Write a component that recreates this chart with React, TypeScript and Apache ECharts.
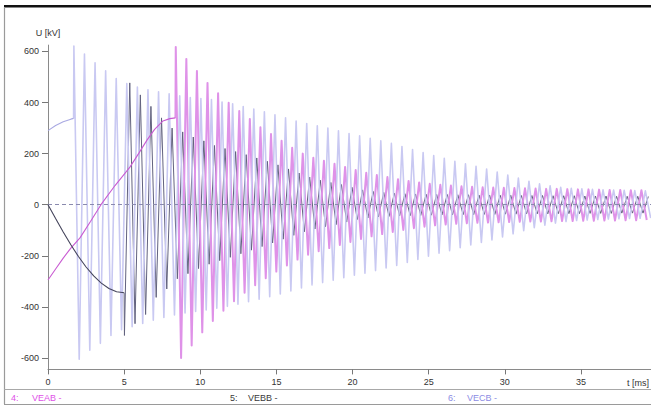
import React, { useEffect, useRef } from "react";
import * as echarts from "echarts";

// ---------- data ----------
const xTicks = [0, 5, 10, 15, 20, 25, 30, 35];
const yTicks = [-600, -400, -200, 0, 200, 400, 600];
const xMax = 39.6;
const yMin = -645;
const yMax = 625;

// oscillation spacing (ms between two successive tops)
const period = 0.695;

// 4: VEAB (magenta)
const veabPreT = [0, 0.5, 1, 1.5, 2.1, 2.8, 3.48, 4.4, 5.38, 6.0, 6.5, 7.0, 7.55, 8.0, 8.37];
const veabPreV = [-295, -252, -209, -170, -130, -65, 0, 75, 147, 205, 253, 295, 328, 337, 340];
const veabTopStart = 8.39;
const veabTops = [618, 571, 524, 477, 436, 399, 367, 336, 303, 277,
  250, 223, 200, 184, 172, 160, 148, 136, 125, 116,
  108, 100, 93, 87, 82, 78, 75, 72, 70, 68,
  67, 66, 65, 64, 63, 62, 62, 61, 60, 60,
  59, 58, 58, 57, 57];
const veabBottomStart = 8.74;
const veabBottoms = [-600, -551, -500, -455, -415, -378, -345, -315, -288, -262,
  -238, -215, -196, -182, -170, -158, -146, -134, -124, -115,
  -107, -99, -92, -86, -81, -78, -75, -73, -71, -70,
  -69, -68, -67, -66, -66, -65, -64, -64, -63, -63,
  -62, -62, -61, -61, -60];

// 5: VEBB (dark)
const vebbPreT = [0, 0.5, 1, 1.5, 2, 2.5, 3, 3.5, 4, 4.5, 5];
const vebbPreV = [0, -54, -107, -157, -203, -244, -279, -307, -328, -341, -345];
const vebbTopStart = 5.37;
const vebbTops = [477, 430, 385, 340, 300, 285, 265, 250, 232, 220,
  208, 196, 183, 170, 156, 140, 124, 108, 96, 87,
  79, 68, 58, 52, 48, 45, 43, 42, 41, 40,
  40, 39, 39, 38, 38, 37, 37, 36, 36, 36,
  35, 35, 35, 34, 34, 34, 33, 33, 33, 32];
const vebbBottomStart = 5.02;
const vebbBottoms = [-512, -466, -430, -363, -330, -290, -270, -250, -233, -219,
  -206, -192, -178, -164, -150, -135, -120, -106, -95, -86,
  -78, -68, -58, -52, -48, -46, -44, -43, -42, -41,
  -40, -40, -39, -39, -38, -38, -37, -37, -36, -36,
  -36, -35, -35, -35, -34, -34, -34, -33, -33, -33];

// 6: VECB (light violet)
const vecbPreT = [0, 0.5, 1, 1.5, 1.68];
const vecbPreV = [290, 310, 325, 335, 338];
const vecbTopStart = 1.7;
const vecbTops = [621, 590, 556, 524, 494, 474, 461, 450, 442, 434,
  426, 420, 416, 412, 402, 395, 384, 375, 364, 352,
  340, 328, 318, 309, 300, 289, 279, 270, 260, 250,
  240, 228, 216, 204, 192, 182, 170, 160, 150, 140,
  128, 116, 104, 92, 82, 74, 68, 64, 62, 60,
  58, 57, 56, 55, 54];
const vecbBottomStart = 2.05;
const vecbBottoms = [-605, -570, -543, -512, -490, -478, -465, -452, -442, -432,
  -424, -418, -412, -405, -398, -390, -380, -370, -360, -350,
  -338, -326, -314, -305, -296, -286, -276, -268, -258, -248,
  -238, -226, -214, -202, -190, -180, -168, -158, -148, -138,
  -126, -114, -102, -90, -80, -72, -66, -62, -60, -58,
  -56, -55, -54, -53, -52];

const seriesNames = ["VEAB", "VEBB", "VECB"];
const curveColors = ["#c95bd2", "#45455c", "#a9a9e2"];
const oscColors = ["#df92e8", "#62627e", "#c9c9f2"];
const oscWidths = [2, 1, 1.6];
const oscZ = [3, 2, 4];
const legendColors = ["#e050e8", "#3a3a3a", "#8c8ce4"];

function buildPre(preT: number[], preV: number[]): number[][] {
  return preT.map((t, i) => [t, preV[i]]);
}

function buildOsc(
  preT: number[], preV: number[],
  topStart: number, tops: number[],
  botStart: number, bots: number[]
): number[][] {
  const osc: number[][] = [];
  tops.forEach((v, k) => osc.push([topStart + k * period, v]));
  bots.forEach((v, k) => osc.push([botStart + k * period, v]));
  osc.sort((a, b) => a[0] - b[0]);
  const last = preT.length - 1;
  return [[preT[last], preV[last]]].concat(osc.filter((p) => p[0] <= xMax));
}

const FONT = "Liberation Sans, Arial, sans-serif";

export default function App() {
  const ref = useRef<HTMLDivElement>(null);
  useEffect(() => {
    if (!ref.current) return;
    const chart = echarts.init(ref.current, undefined, { renderer: "svg" });
    const pre = [
      buildPre(veabPreT, veabPreV),
      buildPre(vebbPreT, vebbPreV),
      buildPre(vecbPreT, vecbPreV),
    ];
    const osc = [
      buildOsc(veabPreT, veabPreV, veabTopStart, veabTops, veabBottomStart, veabBottoms),
      buildOsc(vebbPreT, vebbPreV, vebbTopStart, vebbTops, vebbBottomStart, vebbBottoms),
      buildOsc(vecbPreT, vecbPreV, vecbTopStart, vecbTops, vecbBottomStart, vecbBottoms),
    ];
    const legendX = [[11, 32], [230, 248], [448, 467]];
    const graphics: any[] = [
      { type: "rect", shape: { x: 4, y: 5, width: 647, height: 2.5 }, style: { fill: "#111" }, silent: true },
      { type: "line", shape: { x1: 4.5, y1: 7, x2: 4.5, y2: 404 }, style: { stroke: "#9a9a9a", lineWidth: 1.2 }, silent: true },
      { type: "line", shape: { x1: 4, y1: 389.5, x2: 651, y2: 389.5 }, style: { stroke: "#a8a8a8", lineWidth: 1 }, silent: true },
      { type: "line", shape: { x1: 4, y1: 404.5, x2: 651, y2: 404.5 }, style: { stroke: "#9a9a9a", lineWidth: 1 }, silent: true },
      {
        type: "text", x: 627, y: 383,
        style: { text: "t [ms]", fill: "#333", font: `9px ${FONT}`, verticalAlign: "middle" },
        silent: true,
      },
    ];
    seriesNames.forEach((n, i) => {
      graphics.push({
        type: "text", x: legendX[i][0], y: 397.5,
        style: { text: `${4 + i}:`, fill: legendColors[i], font: `9px ${FONT}`, verticalAlign: "middle" },
        silent: true,
      });
      graphics.push({
        type: "text", x: legendX[i][1], y: 397.5,
        style: { text: `${n} -`, fill: legendColors[i], font: `9px ${FONT}`, verticalAlign: "middle" },
        silent: true,
      });
    });

    const series: any[] = [];
    osc.forEach((d, i) => {
      series.push({
        name: seriesNames[i],
        type: "line",
        data: d,
        showSymbol: false,
        symbol: "none",
        clip: true,
        lineStyle: { color: oscColors[i], width: oscWidths[i], join: "round" },
        itemStyle: { color: oscColors[i] },
        z: oscZ[i],
      });
    });
    pre.forEach((d, i) => {
      series.push({
        name: seriesNames[i] + " (before closing)",
        type: "line",
        data: d,
        showSymbol: false,
        symbol: "none",
        clip: true,
        lineStyle: { color: curveColors[i], width: 1.1 },
        itemStyle: { color: curveColors[i] },
        z: 5,
        markLine: i === 0 ? {
          silent: true,
          symbol: ["none", "none"],
          label: { show: false },
          lineStyle: { color: "#8a8aae", type: [4, 3], width: 1 },
          data: [{ yAxis: 0 }],
        } : undefined,
      });
    });

    chart.setOption({
      animation: false,
      backgroundColor: "#ffffff",
      grid: { left: 48, width: 603, top: 45.1, height: 324.3, containLabel: false },
      xAxis: {
        type: "value",
        min: 0,
        max: xMax,
        axisLine: { show: true, onZero: false, lineStyle: { color: "#8a8a8a", width: 1 } },
        axisTick: { show: true, length: 5, customValues: xTicks, lineStyle: { color: "#777" } },
        axisLabel: { customValues: xTicks, fontSize: 9, color: "#333", margin: 8, fontFamily: FONT },
        splitLine: { show: false },
      },
      yAxis: {
        type: "value",
        min: yMin,
        max: yMax,
        name: "U [kV]",
        nameLocation: "end",
        nameGap: 8,
        nameTextStyle: { fontSize: 9, color: "#333", fontFamily: FONT, align: "center" },
        axisLine: { show: true, lineStyle: { color: "#8a8a8a", width: 1 } },
        axisTick: { show: true, length: 6, customValues: yTicks, lineStyle: { color: "#777" } },
        axisLabel: { customValues: yTicks, fontSize: 9, color: "#333", margin: 9, fontFamily: FONT },
        splitLine: { show: false },
      },
      graphic: graphics,
      series,
    });
    return () => chart.dispose();
  }, []);
  return (
    <div
      ref={ref}
      style={{ position: "fixed", left: 0, top: 0, width: 651, height: 406, background: "#fff" }}
    />
  );
}
